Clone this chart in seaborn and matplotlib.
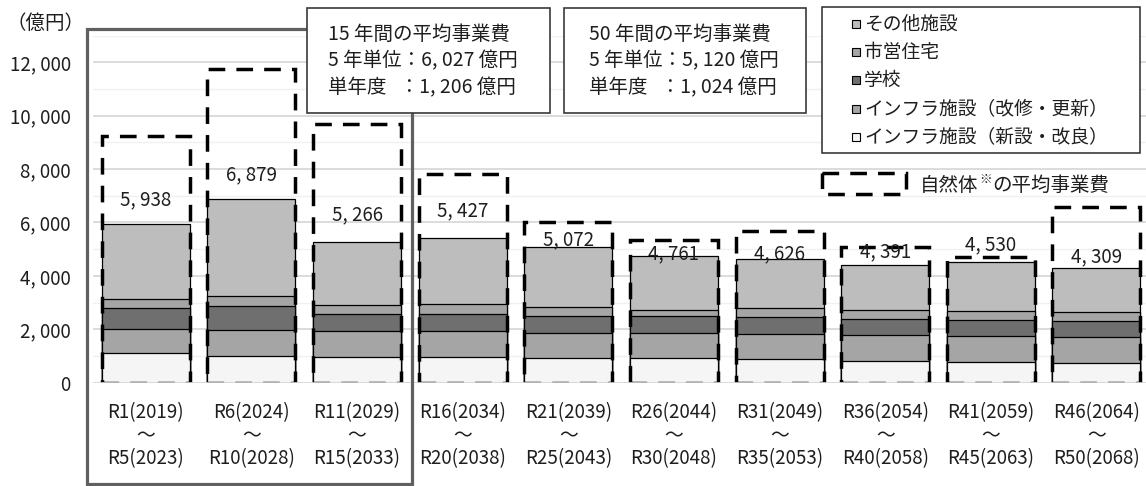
import matplotlib
matplotlib.use("Agg")
import matplotlib.pyplot as plt
from matplotlib.patches import Rectangle
import pandas as pd
import seaborn as sns

# ---- data (億円, 5-year totals) ----
period_start = ["R1(2019)", "R6(2024)", "R11(2029)", "R16(2034)", "R21(2039)",
                "R26(2044)", "R31(2049)", "R36(2054)", "R41(2059)", "R46(2064)"]
period_end = ["R5(2023)", "R10(2028)", "R15(2033)", "R20(2038)", "R25(2043)",
              "R30(2048)", "R35(2053)", "R40(2058)", "R45(2063)", "R50(2068)"]

infra_new = [1125, 1013, 952, 964, 914, 914, 870, 814, 776, 739]
infra_renew = [877, 963, 987, 975, 962, 962, 968, 962, 963, 962]
school = [810, 900, 626, 650, 614, 637, 607, 612, 612, 600]
housing = [326, 387, 349, 362, 337, 200, 343, 350, 325, 350]
other = [2800, 3616, 2352, 2476, 2245, 2048, 1838, 1653, 1854, 1658]
natural_avg = [9250, 11750, 9700, 7830, 6000, 5340, 5670, 5100, 4725, 6580]

series_names = ["その他施設", "市営住宅", "学校",
                "インフラ施設（改修・更新）", "インフラ施設（新設・改良）"]
series_colors = ["#bdbdbd", "#a5a5a5", "#6f6f6f", "#a5a5a5", "#f5f5f5"]

box15 = ["15 年間の平均事業費", "5 年単位：6, 027 億円", "単年度   ：1, 206 億円"]
box50 = ["50 年間の平均事業費", "5 年単位：5, 120 億円", "単年度   ：1, 024 億円"]

# vertical gap between bar top and its total label, in pixels
label_gap_px = [24, 24, 27, 27, 7, 2, 5, 14, 17, 11]

# ---- styling ----
sns.set_theme(style="white")
plt.rcParams["font.family"] = ["Noto Sans CJK JP", "DejaVu Sans"]
TXT = "#1e1e1e"

W, H, DPI = 1146, 486, 100
fig = plt.figure(figsize=(W / DPI, H / DPI), dpi=DPI)

x0_px, x1_px = 93, 1146
y_top_px, y_zero_px = 35.6, 382.7
ax = fig.add_axes([x0_px / W, 1 - y_zero_px / H,
                   (x1_px - x0_px) / W, (y_zero_px - y_top_px) / H])

cats = [f"{s}\n～\n{e}" for s, e in zip(period_start, period_end)]
df = pd.DataFrame({"period": cats, "new": infra_new, "renew": infra_renew,
                   "school": school, "housing": housing, "other": other,
                   "natural": natural_avg})

# cumulative stack heights, bottom to top
stack_cols = ["new", "renew", "school", "housing", "other"]
cum = df[stack_cols].cumsum(axis=1)
df["total"] = cum["other"]

BAR_W = 0.833
# draw tallest cumulative layer first so lower layers sit on top
for col, color in zip(["other", "housing", "school", "renew", "new"], series_colors):
    sns.barplot(x=df["period"], y=cum[col], color=color, saturation=1,
                width=BAR_W, edgecolor="black", linewidth=0.9,
                errorbar=None, ax=ax, zorder=2)

# dashed outline: average of the natural (unconstrained) scenario
n_before = len(ax.patches)
sns.barplot(x=df["period"], y=df["natural"], color="black", fill=False,
            width=BAR_W, errorbar=None, ax=ax, zorder=4)
DASH = (0, (4.8, 3.2))
for p in ax.patches[n_before:]:
    p.set_facecolor("none")
    p.set_edgecolor("black")
    p.set_linewidth(2.5)
    p.set_linestyle(DASH)

# total labels
for i, (tot, gap) in enumerate(zip(df["total"], label_gap_px)):
    ax.annotate(f"{tot:,}".replace(",", ", "), xy=(i, tot),
                xytext=(0, gap * 72 / DPI), textcoords="offset points",
                ha="center", va="center", fontsize=13.5, color=TXT, zorder=5)

ax.set_xlim(-0.5, (x1_px - 146) / 105.6)
ax.set_ylim(0, 13000)
ax.set_yticks(range(0, 12001, 2000))
ax.set_yticklabels([f"{v:,}".replace(",", ", ") for v in range(0, 12001, 2000)],
                   fontsize=13.5, color=TXT)
ax.set_yticks(range(1000, 13001, 2000), minor=True)
ax.grid(axis="y", which="major", color="#d9d9d9", linewidth=1.3, zorder=0)
ax.grid(axis="y", which="minor", color="#f0f0f0", linewidth=1.0, zorder=0)
ax.set_axisbelow(True)
ax.axhline(0, color="#d9d9d9", linewidth=1.2, zorder=6)
ax.tick_params(axis="y", length=0, pad=16)
ax.tick_params(axis="x", length=0, pad=14)
for lbl in ax.get_xticklabels():
    lbl.set_fontsize(13.5)
    lbl.set_color(TXT)
    lbl.set_linespacing(1.13)
ax.set_xlabel("")
ax.set_ylabel("")
for s in ax.spines.values():
    s.set_visible(False)

# ---- overlay in pixel coordinates for boxes and legend ----
ov = fig.add_axes([0, 0, 1, 1], zorder=10)
ov.set_xlim(0, W)
ov.set_ylim(H, 0)
ov.axis("off")
ov.patch.set_alpha(0)

# frame marking the first 15 years
ov.add_patch(Rectangle((87, 29), 412 - 87, 484 - 29, fill=False,
                       edgecolor="#606060", linewidth=2.3, zorder=1))

ov.text(6, 23, "（億円）", fontsize=14, color=TXT, va="center", ha="left")

def text_box(x, y, w, h, lines, tx):
    ov.add_patch(Rectangle((x, y), w, h, facecolor="white",
                           edgecolor="#3a3a3a", linewidth=1.2, zorder=2))
    for k, line in enumerate(lines):
        ov.text(tx, 34.3 + 26.5 * k, line, fontsize=14, color=TXT,
                va="center", ha="left", zorder=3)

text_box(307, 8, 243, 105, box15, 328)
text_box(564, 8, 242, 105, box50, 589)

# legend
ov.add_patch(Rectangle((822, 7), 318, 146, facecolor="white",
                       edgecolor="#2a2a2a", linewidth=1.1, zorder=2))
for k, (name, color) in enumerate(zip(series_names, series_colors)):
    yc = 24 + 28.2 * k
    ov.add_patch(Rectangle((852, yc - 4), 8, 8, facecolor=color,
                           edgecolor="black", linewidth=0.8, zorder=3))
    ov.text(864, yc, name, fontsize=13.5, color=TXT, va="center", ha="left", zorder=3)

ov.add_patch(Rectangle((822, 173), 84, 21, fill=False, edgecolor="black",
                       linewidth=2.5, linestyle=DASH, zorder=3))
ov.text(920, 185, "自然体", fontsize=14, color=TXT, va="center", ha="left")
ov.text(979, 179, "※", fontsize=9, color=TXT, va="center", ha="left")
ov.text(992, 185, "の平均事業費", fontsize=14, color=TXT, va="center", ha="left")

fig.savefig("out.png", dpi=DPI, facecolor="white")
